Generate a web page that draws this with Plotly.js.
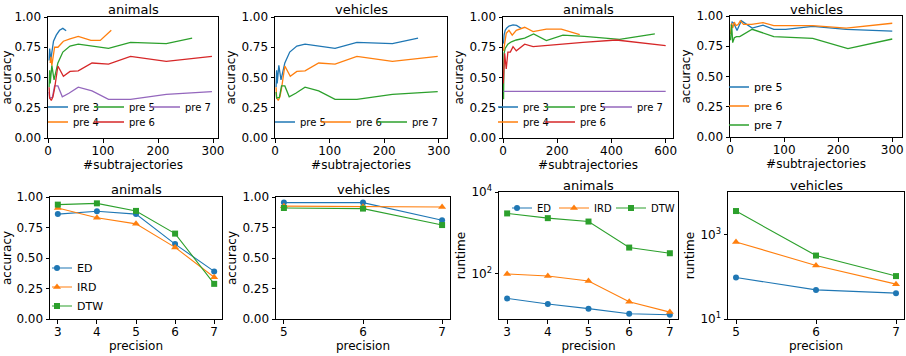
<!DOCTYPE html>
<html><head><meta charset="utf-8">
<script src="https://cdn.plot.ly/plotly-3.0.1.min.js"></script>
<style>html,body{margin:0;padding:0;background:#fff}#chart{width:906px;height:356px}</style>
</head><body><div id="chart"></div>
<script>
// ---------- data ----------
// Panel 1: animals, accuracy vs #subtrajectories
const p1Pre3X = [2, 3, 5, 10, 15, 21, 27, 33];
const p1Pre3Y = [0.64, 0.74, 0.645, 0.80, 0.85, 0.89, 0.906, 0.887];
const p1Pre4X = [4, 5, 7, 10, 12, 18, 28, 40, 55, 78, 95, 115];
const p1Pre4Y = [0.62, 0.67, 0.60, 0.70, 0.75, 0.75, 0.80, 0.82, 0.84, 0.806, 0.806, 0.89];
const p1Pre5X = [2, 3, 4, 7, 11, 18, 27, 40, 55, 80, 110, 150, 215, 262];
const p1Pre5Y = [0.42, 0.56, 0.45, 0.60, 0.48, 0.62, 0.71, 0.76, 0.775, 0.76, 0.74, 0.79, 0.78, 0.825];
const p1Pre6X = [2, 3, 6, 9, 12, 18, 28, 40, 55, 80, 110, 150, 215, 298];
const p1Pre6Y = [0.42, 0.33, 0.31, 0.34, 0.41, 0.595, 0.51, 0.55, 0.555, 0.62, 0.61, 0.675, 0.633, 0.675];
const p1Pre7X = [2, 3, 8, 12, 18, 26, 38, 55, 80, 110, 150, 215, 298];
const p1Pre7Y = [0.38, 0.33, 0.335, 0.43, 0.43, 0.34, 0.37, 0.42, 0.39, 0.32, 0.32, 0.36, 0.383];

// Panel 2: vehicles, accuracy vs #subtrajectories
const p2Pre5X = [2, 3, 4, 7, 11, 18, 27, 40, 55, 80, 110, 150, 215, 262];
const p2Pre5Y = [0.42, 0.56, 0.45, 0.60, 0.48, 0.62, 0.71, 0.76, 0.775, 0.76, 0.74, 0.79, 0.78, 0.825];
const p2Pre6X = [2, 3, 6, 9, 12, 18, 28, 40, 55, 80, 110, 150, 215, 298];
const p2Pre6Y = [0.42, 0.33, 0.31, 0.34, 0.41, 0.595, 0.51, 0.55, 0.555, 0.62, 0.61, 0.675, 0.633, 0.675];
const p2Pre7X = [2, 3, 8, 12, 18, 26, 38, 55, 80, 110, 150, 215, 298];
const p2Pre7Y = [0.38, 0.33, 0.335, 0.43, 0.43, 0.34, 0.37, 0.42, 0.39, 0.32, 0.32, 0.36, 0.383];

// Panel 3: animals, accuracy vs #subtrajectories (up to 600)
const p3Pre3X = [2, 4, 8, 14, 22, 37, 50, 68];
const p3Pre3Y = [0.78, 0.85, 0.89, 0.91, 0.925, 0.935, 0.93, 0.905];
const p3Pre4X = [2, 6, 12, 22, 34, 49, 80, 111, 160, 215, 283];
const p3Pre4Y = [0.72, 0.80, 0.865, 0.89, 0.85, 0.89, 0.915, 0.88, 0.90, 0.90, 0.855];
const p3Pre5X = [1, 2, 4, 8, 18, 31, 49, 80, 113, 160, 221, 300, 430, 560];
const p3Pre5Y = [0.55, 0.32, 0.70, 0.74, 0.775, 0.795, 0.81, 0.825, 0.86, 0.805, 0.85, 0.84, 0.815, 0.86];
const p3Pre6X = [1, 3, 6, 12, 18, 27, 37, 49, 68, 80, 111, 209, 295, 418, 600];
const p3Pre6Y = [0.45, 0.64, 0.70, 0.57, 0.71, 0.71, 0.755, 0.72, 0.755, 0.775, 0.755, 0.775, 0.79, 0.81, 0.764];
const p3Pre7X = [2, 50, 150, 300, 450, 600];
const p3Pre7Y = [0.385, 0.385, 0.385, 0.385, 0.385, 0.385];

// Panel 4: vehicles, accuracy vs #subtrajectories
const p4Pre5X = [2, 4, 7, 13, 21, 41, 61, 81, 103, 153, 215, 300];
const p4Pre5Y = [0.92, 0.95, 0.94, 0.88, 0.96, 0.90, 0.925, 0.89, 0.89, 0.915, 0.89, 0.875];
const p4Pre6X = [1, 3, 5, 8, 11, 15, 19, 25, 40, 61, 81, 153, 215, 300];
const p4Pre6Y = [0.85, 0.94, 0.90, 0.95, 0.92, 0.93, 0.96, 0.93, 0.93, 0.945, 0.92, 0.92, 0.90, 0.94];
const p4Pre7X = [1, 3, 5, 8, 12, 18, 41, 81, 153, 218, 300];
const p4Pre7Y = [0.80, 0.93, 0.78, 0.82, 0.83, 0.83, 0.89, 0.83, 0.815, 0.73, 0.81];

// Panels 5-8: vs precision
const precAnimals = [3, 4, 5, 6, 7];
const precVehicles = [5, 6, 7];
const accAnimalsED  = [0.86, 0.883, 0.86, 0.614, 0.39];
const accAnimalsIRD = [0.91, 0.83, 0.78, 0.587, 0.342];
const accAnimalsDTW = [0.9375, 0.948, 0.886, 0.70, 0.288];
const accVehiclesED  = [0.954, 0.954, 0.81];
const accVehiclesIRD = [0.925, 0.92, 0.918];
const accVehiclesDTW = [0.91, 0.905, 0.77];
const rtAnimalsED  = [25.3, 18.4, 14.2, 10.7, 10.1];
const rtAnimalsIRD = [100, 89, 67, 21, 11.7];
const rtAnimalsDTW = [3000, 2300, 1900, 440, 320];
const rtVehiclesED  = [96, 49, 41];
const rtVehiclesIRD = [671, 185, 67];
const rtVehiclesDTW = [3620, 319, 104];

// ---------- styling helpers ----------
const COL = {blue:'#1f77b4', orange:'#ff7f0e', green:'#2ca02c', red:'#d62728', purple:'#9467bd'};
const W = 906, H = 356;
const dx = (a, b) => [a / W, b / W];
const dy = (top, bot) => [1 - bot / H, 1 - top / H];
const FONT = 'DejaVu Sans, sans-serif';

function line(x, y, name, color, ax, leg) {
  return {x, y, name, type:'scatter', mode:'lines', line:{color, width:1.3},
          xaxis:'x'+ax, yaxis:'y'+ax, legend:leg, hoverinfo:'skip'};
}
function mline(x, y, name, color, sym, size, ax, leg, show) {
  return {x, y, name, type:'scatter', mode:'lines+markers', line:{color, width:1.1},
          marker:{color, symbol:sym, size}, xaxis:'x'+ax, yaxis:'y'+ax,
          legend:leg, showlegend:show, hoverinfo:'skip'};
}

const data = [
  line(p1Pre3X, p1Pre3Y, 'pre 3', COL.blue, '', 'legend'),
  line(p1Pre5X, p1Pre5Y, 'pre 5', COL.green, '', 'legend'),
  line(p1Pre7X, p1Pre7Y, 'pre 7', COL.purple, '', 'legend'),
  line(p1Pre4X, p1Pre4Y, 'pre 4', COL.orange, '', 'legend2'),
  line(p1Pre6X, p1Pre6Y, 'pre 6', COL.red, '', 'legend2'),

  line(p2Pre5X, p2Pre5Y, 'pre 5', COL.blue, '2', 'legend3'),
  line(p2Pre6X, p2Pre6Y, 'pre 6', COL.orange, '2', 'legend3'),
  line(p2Pre7X, p2Pre7Y, 'pre 7', COL.green, '2', 'legend3'),

  line(p3Pre3X, p3Pre3Y, 'pre 3', COL.blue, '3', 'legend4'),
  line(p3Pre5X, p3Pre5Y, 'pre 5', COL.green, '3', 'legend4'),
  line(p3Pre7X, p3Pre7Y, 'pre 7', COL.purple, '3', 'legend4'),
  line(p3Pre4X, p3Pre4Y, 'pre 4', COL.orange, '3', 'legend5'),
  line(p3Pre6X, p3Pre6Y, 'pre 6', COL.red, '3', 'legend5'),

  line(p4Pre5X, p4Pre5Y, 'pre 5', COL.blue, '4', 'legend6'),
  line(p4Pre6X, p4Pre6Y, 'pre 6', COL.orange, '4', 'legend6'),
  line(p4Pre7X, p4Pre7Y, 'pre 7', COL.green, '4', 'legend6'),

  mline(precAnimals, accAnimalsED,  'ED',  COL.blue,   'circle',      6, '5', 'legend7', true),
  mline(precAnimals, accAnimalsIRD, 'IRD', COL.orange, 'triangle-up', 7, '5', 'legend7', true),
  mline(precAnimals, accAnimalsDTW, 'DTW', COL.green,  'square',      6, '5', 'legend7', true),

  mline(precVehicles, accVehiclesED,  'ED',  COL.blue,   'circle',      6, '6', 'legend7', false),
  mline(precVehicles, accVehiclesIRD, 'IRD', COL.orange, 'triangle-up', 7, '6', 'legend7', false),
  mline(precVehicles, accVehiclesDTW, 'DTW', COL.green,  'square',      6, '6', 'legend7', false),

  mline(precAnimals, rtAnimalsED,  'ED',  COL.blue,   'circle',      6, '7', 'legend8', true),
  mline(precAnimals, rtAnimalsIRD, 'IRD', COL.orange, 'triangle-up', 7, '7', 'legend8', true),
  mline(precAnimals, rtAnimalsDTW, 'DTW', COL.green,  'square',      6, '7', 'legend8', true),

  mline(precVehicles, rtVehiclesED,  'ED',  COL.blue,   'circle',      6, '8', 'legend8', false),
  mline(precVehicles, rtVehiclesIRD, 'IRD', COL.orange, 'triangle-up', 7, '8', 'legend8', false),
  mline(precVehicles, rtVehiclesDTW, 'DTW', COL.green,  'square',      6, '8', 'legend8', false),
];

function axis(extra) {
  return Object.assign({
    showline:true, mirror:true, linecolor:'#000', linewidth:1,
    ticks:'outside', ticklen:3.5, tickwidth:1, tickcolor:'#000',
    showgrid:false, zeroline:false, fixedrange:true,
    tickfont:{size:12, color:'#000', family:FONT},
  }, extra);
}
function ttl(text, standoff) { return {text, standoff, font:{size:12, color:'#000', family:FONT}}; }
const xa = (extra) => axis(Object.assign({ticklabelstandoff:-2}, extra));

const accY = (anchor, dom) => axis({anchor, domain:dom, range:[0, 1], tickvals:[0, 0.25, 0.5, 0.75, 1], tickformat:'.2f', title:ttl('accuracy', 3)});

const layout = {
  width:W, height:H, margin:{l:0, r:0, t:0, b:0},
  paper_bgcolor:'#fff', plot_bgcolor:'#fff',
  font:{family:FONT, color:'#000', size:12},
  showlegend:true,
  xaxis:  xa({anchor:'y',  domain:dx(48, 218),  range:[0, 309], tickvals:[0,100,200,300], title:ttl('#subtrajectories', 0)}),
  yaxis:  accY('x',  dy(17, 138)),
  xaxis2: xa({anchor:'y2', domain:dx(275, 447), range:[0, 315], tickvals:[0,100,200,300], title:ttl('#subtrajectories', 0)}),
  yaxis2: accY('x2', dy(17, 138)),
  xaxis3: xa({anchor:'y3', domain:dx(503, 673), range:[0, 627], tickvals:[0,200,400,600], title:ttl('#subtrajectories', 0)}),
  yaxis3: accY('x3', dy(17, 138)),
  xaxis4: xa({anchor:'y4', domain:dx(730, 902), range:[0, 318], tickvals:[0,100,200,300], title:ttl('#subtrajectories', 0)}),
  yaxis4: accY('x4', dy(16, 137)),
  xaxis5: xa({anchor:'y5', domain:dx(50, 222),  range:[2.8, 7.2], tickvals:[3,4,5,6,7], title:ttl('precision', 0)}),
  yaxis5: accY('x5', dy(197, 319)),
  xaxis6: xa({anchor:'y6', domain:dx(276, 450), range:[4.9, 7.1], tickvals:[5,6,7], title:ttl('precision', 0)}),
  yaxis6: accY('x6', dy(197, 319)),
  xaxis7: xa({anchor:'y7', domain:dx(499, 678), range:[2.8, 7.2], tickvals:[3,4,5,6,7], title:ttl('precision', 0)}),
  yaxis7: axis({anchor:'x7', domain:dy(192, 319), type:'log', range:[0.9, 4], tickvals:[100, 10000], ticktext:['10<sup>2</sup>','10<sup>4</sup>'], title:ttl('runtime', 3)}),
  xaxis8: xa({anchor:'y8', domain:dx(728, 904), range:[4.9, 7.1], tickvals:[5,6,7], title:ttl('precision', 0)}),
  yaxis8: axis({anchor:'x8', domain:dy(192, 319), type:'log', range:[1, 4.01], tickvals:[10, 1000], ticktext:['10<sup>1</sup>','10<sup>3</sup>'], title:ttl('runtime', 3)}),
  annotations: [],
};

function leg(x, y, orient, size, extra) {
  return Object.assign({x:x / W, y:1 - y / H, xref:'paper', yref:'paper', xanchor:'left', yanchor:'middle',
    orientation:orient, bgcolor:'rgba(0,0,0,0)', borderwidth:0, font:{size, color:'#000', family:FONT},
    tracegroupgap:0, itemclick:false, itemdoubleclick:false, indentation:-15}, extra || {});
}
layout.legend  = leg(48, 107, 'h', 10, {entrywidth:26});
layout.legend2 = leg(48, 122, 'h', 10, {entrywidth:26});
layout.legend3 = leg(275, 122, 'h', 10, {entrywidth:26});
layout.legend4 = leg(498, 107, 'h', 10, {entrywidth:27});
layout.legend5 = leg(498, 122, 'h', 10, {entrywidth:27});
layout.legend6 = leg(729, 106, 'v', 11);
layout.legend7 = leg(52, 287, 'v', 11);
layout.legend8 = leg(512, 208, 'h', 10, {entrywidth:27});

const titles = [
  ['animals', 133, 10], ['vehicles', 361, 10], ['animals', 588, 10], ['vehicles', 816, 10],
  ['animals', 136, 189], ['vehicles', 363, 189], ['animals', 588, 185], ['vehicles', 816, 185],
];
titles.forEach(([t, x, y]) => layout.annotations.push({text:t, x:x / W, y:1 - y / H, xref:'paper', yref:'paper',
  xanchor:'center', yanchor:'middle', showarrow:false, font:{size:13, color:'#000', family:FONT}}));

Plotly.newPlot('chart', data, layout, {displayModeBar:false, staticPlot:true});
</script></body></html>
